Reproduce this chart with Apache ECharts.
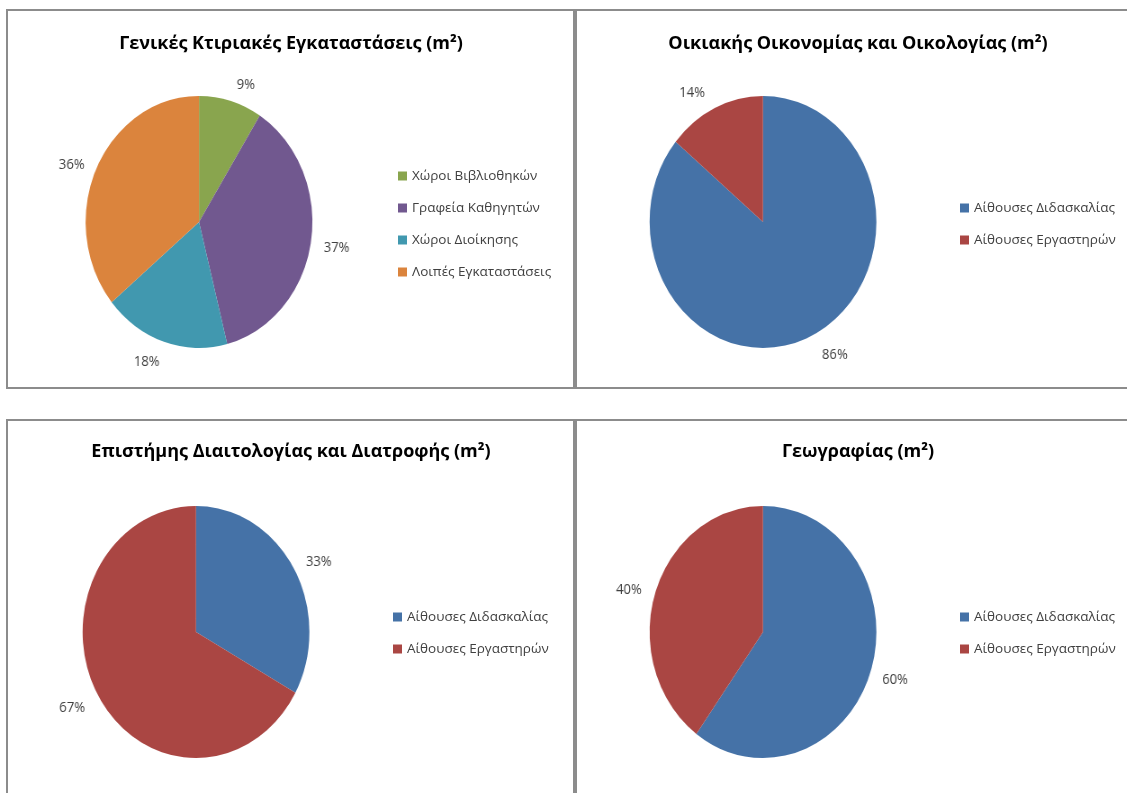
<!DOCTYPE html>
<html><head><meta charset="utf-8">
<script src="https://cdn.jsdelivr.net/npm/echarts@6/dist/echarts.min.js"></script>
<style>
html,body{margin:0;padding:0;background:#fff;overflow:hidden}
#base{position:absolute;left:0;top:0;width:1127px;height:793px}
#pies{position:absolute;left:0;top:0;width:1253px;height:793px;transform:scaleX(0.9);transform-origin:0 0;pointer-events:none}
</style>
</head><body><div id="base"></div><div id="pies"></div>
<script>
const titles = ['Γενικές Κτιριακές Εγκαταστάσεις (m²)','Οικιακής Οικονομίας και Οικολογίας (m²)','Επιστήμης Διαιτολογίας και Διατροφής (m²)','Γεωγραφίας (m²)'];
const cats1 = ['Χώροι Βιβλιοθηκών','Γραφεία Καθηγητών','Χώροι Διοίκησης','Λοιπές Εγκαταστάσεις'];
const vals1 = [9,37,18,36];
const cats2 = ['Αίθουσες Διδασκαλίας','Αίθουσες Εργαστηρών'];
const vals2 = [86,14];
const vals3 = [33,67];
const vals4 = [60,40];
const colors1 = ['#89A54E','#71588F','#4198AF','#DB843D'];
const colors2 = ['#4572A7','#AA4643'];

const FONT = '"Open Sans", sans-serif';
const SX = 0.9;
const panels = [
  {x:7,y:10,w:567,h:378, cx:199, cy:222, tx:286, ty:30, lx:398, ly:169},
  {x:576,y:10,w:600,h:378, cx:763, cy:222, tx:853, ty:30, lx:960, ly:201},
  {x:7,y:420,w:567,h:420, cx:196, cy:632, tx:286, ty:438, lx:393, ly:610},
  {x:576,y:420,w:600,h:420, cx:763, cy:632, tx:853, ty:438, lx:960, ly:610}
];
// small screen-pixel nudges so data labels sit where the original placed them
const labelNudge = [
  [[-5,-5],[-6,4],[7,9],[6,2]],
  [[-2,8],[3,-4]],
  [[-5,0],[4,6]],
  [[-7,5],[5,1]]
];
const seriesData = [
  {cats:cats1, vals:vals1, colors:colors1},
  {cats:cats2, vals:vals2, colors:colors2},
  {cats:cats2, vals:vals3, colors:colors2},
  {cats:cats2, vals:vals4, colors:colors2}
];
const pieData = i => seriesData[i].cats.map((n,j)=>({name:n, value:seriesData[i].vals[j], itemStyle:{color:seriesData[i].colors[j]}}));

// Frame, titles and legends
const base = echarts.init(document.getElementById('base'));
base.setOption({
  animation:false,
  title: panels.map((p,i)=>({text:titles[i], left:p.tx, top:p.ty, textAlign:'center',
    textStyle:{fontFamily:FONT, fontSize:18, fontWeight:'bold', color:'#000'}})),
  legend: panels.map((p,i)=>({orient:'vertical', left:p.lx, top:p.ly, padding:0, itemWidth:9, itemHeight:9, itemGap:18,
    icon:'rect', data:seriesData[i].cats, selectedMode:false,
    textStyle:{fontFamily:FONT, fontSize:13.5, color:'#404040'}})),
  graphic: panels.map(p=>({type:'rect', shape:{x:p.x,y:p.y,width:p.w,height:p.h},
    style:{fill:'none', stroke:'#8c8c8c', lineWidth:2}})),
  // zero-size series only feed the legend its colours
  series: panels.map((p,i)=>({type:'pie', center:[p.cx,p.cy], radius:0, silent:true,
    data: pieData(i), label:{show:false}, labelLine:{show:false}}))
});

// Pies (drawn in a horizontally scaled layer so they come out elliptical)
const pies = echarts.init(document.getElementById('pies'));
pies.setOption({
  animation:false,
  series: panels.map((p,i)=>({
    type:'pie', center:[p.cx/SX,p.cy], radius:126, startAngle:90, clockwise:true, silent:true,
    data: pieData(i),
    label:{show:true, position:'outside', formatter:'{c}%', fontFamily:FONT, fontSize:14.5, color:'#404040'},
    labelLine:{show:false, length:12, length2:4},
    labelLayout: params => {
      const n = labelNudge[params.seriesIndex][params.dataIndex];
      return {dx:n[0]/SX, dy:n[1]};
    }
  }))
});
</script></body></html>
